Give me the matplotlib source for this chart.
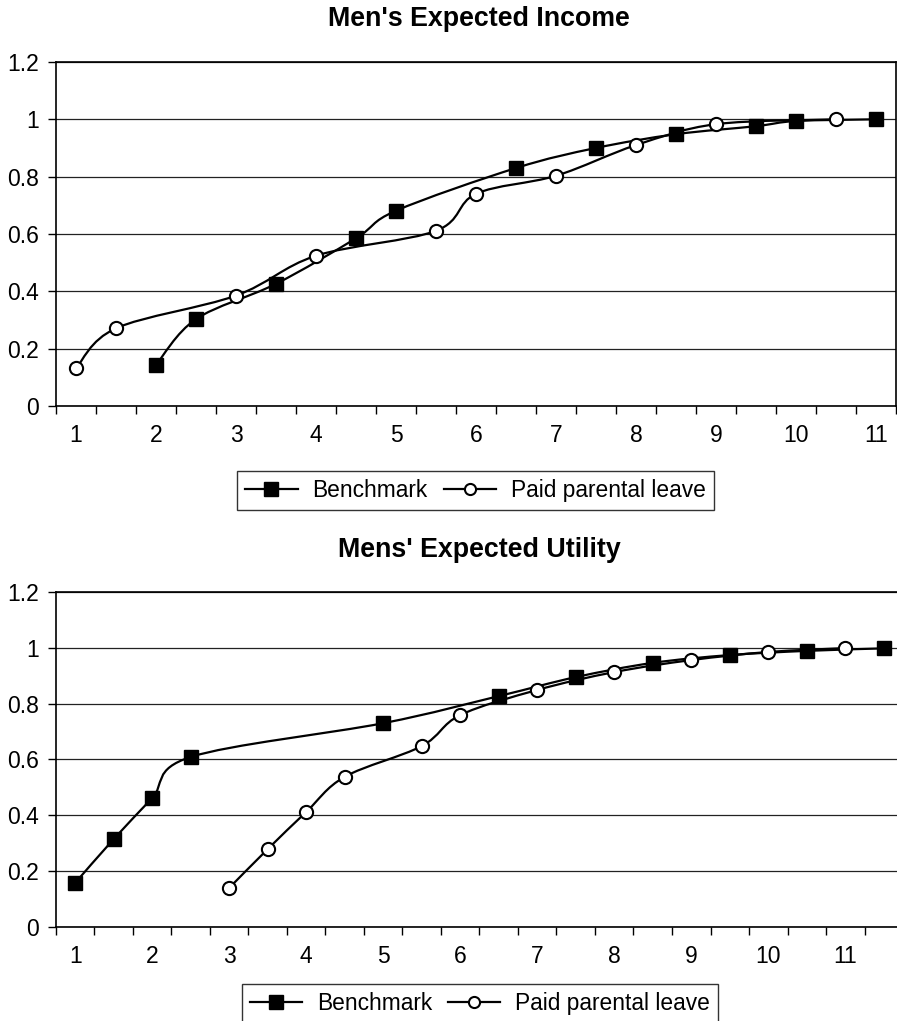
import numpy as np
import matplotlib.pyplot as plt
from matplotlib.path import Path
from matplotlib.patches import PathPatch
from matplotlib.lines import Line2D

plt.rcParams['font.family'] = ['Liberation Sans', 'DejaVu Sans']

# Men's expected income
inc_bench_x = [2, 2.5, 3.5, 4.5, 5, 6.5, 7.5, 8.5, 9.5, 10, 11]
inc_bench_y = [0.143, 0.303, 0.426, 0.585, 0.681, 0.830, 0.900, 0.948, 0.976, 0.994, 1.0]
inc_leave_x = [1, 1.5, 3, 4, 5.5, 6, 7, 8, 9, 10.5]
inc_leave_y = [0.131, 0.271, 0.385, 0.524, 0.611, 0.740, 0.803, 0.910, 0.983, 1.0]

# Mens' expected utility
ut_bench_x = [1, 1.5, 2, 2.5, 5, 6.5, 7.5, 8.5, 9.5, 10.5, 11.5]
ut_bench_y = [0.158, 0.315, 0.462, 0.609, 0.730, 0.827, 0.895, 0.946, 0.974, 0.989, 0.998]
ut_leave_x = [3, 3.5, 4, 4.5, 5.5, 6, 7, 8, 9, 10, 11]
ut_leave_y = [0.140, 0.279, 0.412, 0.538, 0.648, 0.759, 0.849, 0.913, 0.956, 0.985, 0.999]

x_labels = [str(i) for i in range(1, 12)]
y_ticks = [0, 0.2, 0.4, 0.6, 0.8, 1.0, 1.2]
y_labels = ['0', '0.2', '0.4', '0.6', '0.8', '1', '1.2']


def smooth_path(xs, ys):
    """Bezier path through the points (like a spreadsheet 'smoothed line')."""
    p = np.column_stack([xs, ys]).astype(float)
    n = len(p)
    verts = [p[0]]
    codes = [Path.MOVETO]
    for i in range(n - 1):
        p0 = p[i - 1] if i > 0 else p[i]
        p1, p2 = p[i], p[i + 1]
        p3 = p[i + 2] if i + 2 < n else p[i + 1]
        c1 = p1 + (p2 - p0) / 6.0
        c2 = p2 - (p3 - p1) / 6.0
        verts += [c1, c2, p2]
        codes += [Path.CURVE4] * 3
    return Path(verts, codes)


def draw_panel(ax, title, bx, by, lx, ly, xmax, title_y, fig):
    for xs, ys in [(bx, by), (lx, ly)]:
        ax.add_patch(PathPatch(smooth_path(xs, ys), fill=False,
                               edgecolor='black', lw=1.6, zorder=3))
    ax.plot(bx, by, linestyle='none', marker='s', ms=10, color='black', zorder=4)
    ax.plot(lx, ly, linestyle='none', marker='o', ms=9.5, mfc='white',
            mec='black', mew=1.5, zorder=4)

    ax.set_xlim(0.75, xmax)
    ax.set_ylim(0, 1.2)
    ax.set_yticks(y_ticks)
    ax.set_yticklabels(y_labels)
    ax.set_xticks(range(1, 12))
    ax.set_xticklabels(x_labels)
    ax.set_xticks(np.arange(0.75, xmax + 0.01, 0.5), minor=True)
    ax.tick_params(axis='x', which='major', length=0, pad=13, labelsize=16.5)
    ax.tick_params(axis='x', which='minor', length=6, width=1, direction='out')
    ax.tick_params(axis='y', length=6, width=1, pad=6, labelsize=16.5)
    ax.grid(axis='y', color='#222222', lw=0.9)
    ax.set_axisbelow(True)
    for s in ax.spines.values():
        s.set_linewidth(1.2)

    fig.text(0.534, title_y, title, ha='center', va='center',
             fontsize=19.3, fontweight='bold')


fig = plt.figure(figsize=(8.97, 10.21), dpi=100)

ax1 = fig.add_axes([0.0624, 0.6024, 0.9365, 0.3369])
draw_panel(ax1, "Men's Expected Income", inc_bench_x, inc_bench_y,
           inc_leave_x, inc_leave_y, 11.25, 0.981, fig)

ax2 = fig.add_axes([0.0624, 0.0921, 0.9443, 0.3281])
draw_panel(ax2, "Mens' Expected Utility", ut_bench_x, ut_bench_y,
           ut_leave_x, ut_leave_y, 11.75, 0.4613, fig)

handles = [
    Line2D([], [], color='black', lw=1.6, marker='s', ms=10),
    Line2D([], [], color='black', lw=1.6, marker='o', ms=8, mfc='white', mew=1.5),
]
names = ['Benchmark', 'Paid parental leave']
leg_kw = dict(ncol=2, fontsize=16.4, frameon=True, fancybox=False,
              edgecolor='black', handlelength=2.3, handletextpad=0.65,
              columnspacing=0.7, borderpad=0.35, borderaxespad=0)
l1 = fig.legend(handles, names, loc='center', bbox_to_anchor=(0.530, 0.520), **leg_kw)
l2 = fig.legend(handles, names, loc='upper center', bbox_to_anchor=(0.535, 0.0363), **leg_kw)
for lg in (l1, l2):
    lg.get_frame().set_linewidth(1.0)

fig.savefig('out.png', dpi=100)
